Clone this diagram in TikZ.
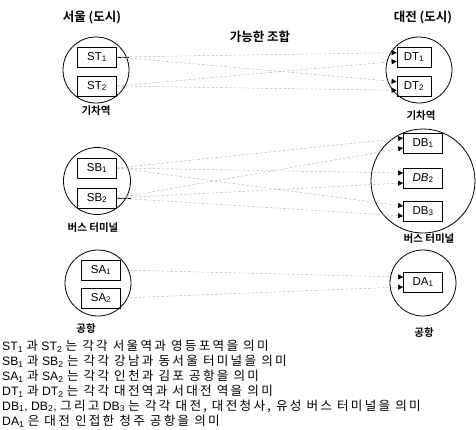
\documentclass[tikz,border=0pt]{standalone}
\usepackage{fontspec}
\setmainfont{Liberation Sans}
\newfontfamily\kr[BoldFont={Noto Sans CJK KR Bold}]{Noto Sans CJK KR}
\newfontfamily\krw[LetterSpace=18]{Noto Sans CJK KR}
\newcommand\hk[1]{{\krw\fontsize{12.6}{14}\selectfont #1}}
\usetikzlibrary{arrows.meta}
\begin{document}
\begin{tikzpicture}[x=1pt,y=-1pt,
  grp/.style={circle,draw,line width=0.8pt,inner sep=0pt},
  box/.style={draw,line width=0.8pt,minimum width=39pt,minimum height=20pt,inner sep=0pt,font=\fontsize{11.5}{12}\selectfont},
  title/.style={font=\kr\bfseries\fontsize{12.5}{14}\selectfont},
  lbl/.style={font=\kr\bfseries\fontsize{10.5}{12}\selectfont},
  note/.style={font=\fontsize{12.2}{14}\selectfont,anchor=west,inner sep=0pt},
  stub/.style={line width=0.6pt},
  link/.style={gray!55,line width=0.5pt,dash pattern=on 2.5pt off 2pt,-{Triangle[length=5pt,width=5pt,color=black]}}]
\useasboundingbox (0,0) rectangle (476,429);
% titles
\node[title] (t1) at (92,18) {서울 (도시)};
\node[title] (t2) at (423,18) {대전 (도시)};
\node[title] (t3) at (260,37) {가능한 조합};
% left groups
\node[grp,minimum size=66pt] (cLT) at (96,70) {};
\node[box] (ST1) at (97,57) {ST\textsubscript{1}};
\node[box] (ST2) at (97,86) {ST\textsubscript{2}};
\node[lbl] (lLT) at (96,111) {기차역};
\node[grp,minimum size=67pt] (cLB) at (97,181) {};
\node[box] (SB1) at (97,168) {SB\textsubscript{1}};
\node[box] (SB2) at (97,198) {SB\textsubscript{2}};
\node[lbl] (lLB) at (93,228) {버스 터미널};
\node[grp,minimum size=66pt] (cLA) at (98,283) {};
\node[box] (SA1) at (101,270) {SA\textsubscript{1}};
\node[box] (SA2) at (101,298) {SA\textsubscript{2}};
\node[lbl] (lLA) at (86,329) {공항};
% right groups
\node[grp,minimum size=66pt] (cRT) at (419,70) {};
\node[box,minimum width=34pt] (DT1) at (414,57) {DT\textsubscript{1}};
\node[box,minimum width=34pt] (DT2) at (414,86) {DT\textsubscript{2}};
\node[lbl] (lRT) at (421,116) {기차역};
\node[grp,minimum size=104pt] (cRB) at (423,181) {};
\node[box] (DB1) at (423,143) {DB\textsubscript{1}};
\node[box] (DB2) at (423,178) {\textit{DB}\textsubscript{2}};
\node[box] (DB3) at (423,211) {DB\textsubscript{3}};
\node[lbl] (lRB) at (429,239) {버스 터미널};
\node[grp,minimum size=66pt] (cRA) at (423,283) {};
\node[box] (DA1) at (423,282) {DA\textsubscript{1}};
\node[lbl] (lRA) at (424,333) {공항};
% stubs
\draw[stub] (ST1.east) -- (ST1.east -| cLT.east);
\draw[stub] (SB2.east) -- (SB2.east -| cLB.east);
% links
\draw[link] (ST1.east) -- (DT1.166);
\draw[link] (ST2.east) -- (DT1.194);
\draw[link] (ST1.east) -- (DT2.166);
\draw[link] (ST2.east) -- (DT2.194);
\draw[link] (SB1.east) -- (DB1.166);
\draw[link] (SB2.east) -- (DB1.194);
\draw[link] (SB1.east) -- (DB2.166);
\draw[link] (SB2.east) -- (DB2.194);
\draw[link] (SB1.east) -- (DB3.166);
\draw[link] (SB2.east) -- (DB3.194);
\draw[link] (SA1.east) -- (DA1.166);
\draw[link] (SA2.east) -- (DA1.194);
% notes
\node[note] (n1) at (2,346) {ST\textsubscript{1} \hk{과} ST\textsubscript{2} \hk{는 각각 서울역과 영등포역을 의미}};
\node[note] (n2) at (2,361) {SB\textsubscript{1} \hk{과} SB\textsubscript{2} \hk{는 각각 강남과 동서울 터미널을 의미}};
\node[note] (n3) at (2,376) {SA\textsubscript{1} \hk{과} SA\textsubscript{2} \hk{는 각각 인천과 김포 공항을 의미}};
\node[note] (n4) at (2,391) {DT\textsubscript{1} \hk{과} DT\textsubscript{2} \hk{는 각각 대전역과 서대전 역을 의미}};
\node[note] (n5) at (2,406) {DB\textsubscript{1}, DB\textsubscript{2}, \hk{그리고} DB\textsubscript{3} \hk{는 각각 대전, 대전청사, 유성 버스 터미널을 의미}};
\node[note] (n6) at (2,421) {DA\textsubscript{1} \hk{은 대전 인접한 청주 공항을 의미}};
\end{tikzpicture}
\end{document}
